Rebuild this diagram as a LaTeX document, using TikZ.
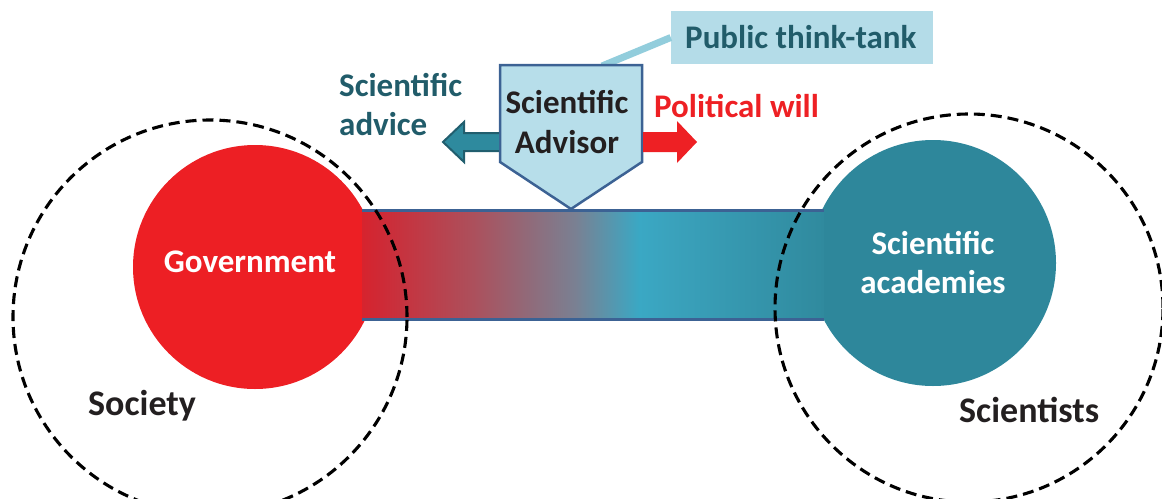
\documentclass[tikz,border=0pt]{standalone}
\usepackage{fontspec}
\setmainfont{Carlito}
\usetikzlibrary{calc}
\definecolor{govred}{RGB}{237,31,36}
\definecolor{acadteal}{RGB}{46,135,155}
\definecolor{darkteal}{RGB}{33,92,106}
\definecolor{paleblue}{RGB}{183,222,234}
\definecolor{boxblue}{RGB}{180,220,232}
\definecolor{linkblue}{RGB}{146,205,220}
\definecolor{edgeblue}{RGB}{60,98,148}
\definecolor{textdark}{RGB}{35,31,32}
\definecolor{arrowred}{RGB}{238,32,36}
\definecolor{arrowteal}{RGB}{46,138,158}
\definecolor{arrowedge}{RGB}{33,94,110}
\definecolor{bA}{RGB}{214,36,46}
\definecolor{bB}{RGB}{206,42,54}
\definecolor{bC}{RGB}{172,80,92}
\definecolor{bD}{RGB}{122,128,146}
\definecolor{bE}{RGB}{58,168,196}
\definecolor{bF}{RGB}{58,162,188}
\definecolor{bG}{RGB}{48,138,158}
\pgfdeclarehorizontalshading{barshade}{100bp}{color(0bp)=(bA); color(25bp)=(bA); color(27bp)=(bB); color(37bp)=(bC); color(48bp)=(bD); color(55bp)=(bE); color(58.5bp)=(bF); color(75bp)=(bG); color(100bp)=(bG)}
\tikzset{
  lbl/.style={font=\fontsize{33}{40}\selectfont\bfseries, inner sep=0pt},
  biglbl/.style={font=\fontsize{36}{42}\selectfont\bfseries, inner sep=0pt, text=textdark},
  ring/.style={draw=black, line width=3.1pt, dash pattern=on 11pt off 6pt},
  disc/.style={circle, inner sep=0pt},
  barline/.style={draw=edgeblue, line width=3pt},
}
\begin{document}
\begin{tikzpicture}[x=1pt,y=-1pt]
\useasboundingbox (0,0) rectangle (1162,498);
% circles
\node[disc, fill=govred, minimum size=244pt] (gov) at (255,267) {};
\node[disc, fill=acadteal, minimum size=246pt] (acad) at (933,263) {};
% bar
\node[shading=barshade, minimum width=461pt, minimum height=108pt, inner sep=0pt] (bar) at (593,265) {};
\draw[barline] (bar.north west) -- (bar.north east);
\draw[barline] (bar.south west) -- (bar.south east);
% labels in circles
\node[lbl, text=white, anchor=base] (govt) at (250,272) {Government};
\node[lbl, text=white, anchor=base] (acad1) at (933,254) {Scientific};
\node[lbl, text=white, anchor=base] (acad2) at (933,293) {academies};
% think tank box and link
\node[fill=boxblue, minimum width=262pt, minimum height=53pt, inner sep=0pt] (tank) at (802,37.5) {};
\node[lbl, text=darkteal, anchor=base west] (tankt) at (685,48) {Public think-tank};
\coordinate (advtop) at (602,66);
\draw[linkblue, line width=7pt] (advtop) -- (tank.west);
% advisor pentagon
\coordinate (a1) at (500,65);
\coordinate (a2) at (642,65);
\coordinate (a3) at (642,162);
\coordinate (a4) at (571,209);
\coordinate (a5) at (500,162);
\draw[fill=paleblue, draw=edgeblue, line width=2.5pt, line join=miter] (a1) -- (a2) -- (a3) -- (a4) -- (a5) -- cycle;
\node[lbl, text=textdark, anchor=base] (adv1) at (567,113) {Scientific};
\node[lbl, text=textdark, anchor=base] (adv2) at (567,153) {Advisor};
% arrows
\fill[arrowred] (643,132) -- (677,132) -- (677,121) -- (697,142) -- (677,163) -- (677,152) -- (643,152) -- cycle;
\draw[fill=arrowteal, draw=arrowedge, line width=2pt] (499,133) -- (464,133) -- (464,122) -- (443,142) -- (464,162) -- (464,151) -- (499,151);
\node[lbl, text=arrowred, anchor=base west] (will) at (654,117) {Political will};
\node[lbl, text=darkteal, anchor=base west] (adv3) at (339,96) {Scientific};
\node[lbl, text=darkteal, anchor=base west] (adv4) at (339,135) {advice};
% outer dashed rings
\node[disc, ring, minimum size=394pt] (society) at (210,317) {};
\node[disc, ring, minimum size=388pt] (scient) at (969,308) {};
\node[biglbl, anchor=base west] (soct) at (88,415) {Society};
\node[biglbl, anchor=base west] (scit) at (959,422) {Scientists};
\end{tikzpicture}
\end{document}
